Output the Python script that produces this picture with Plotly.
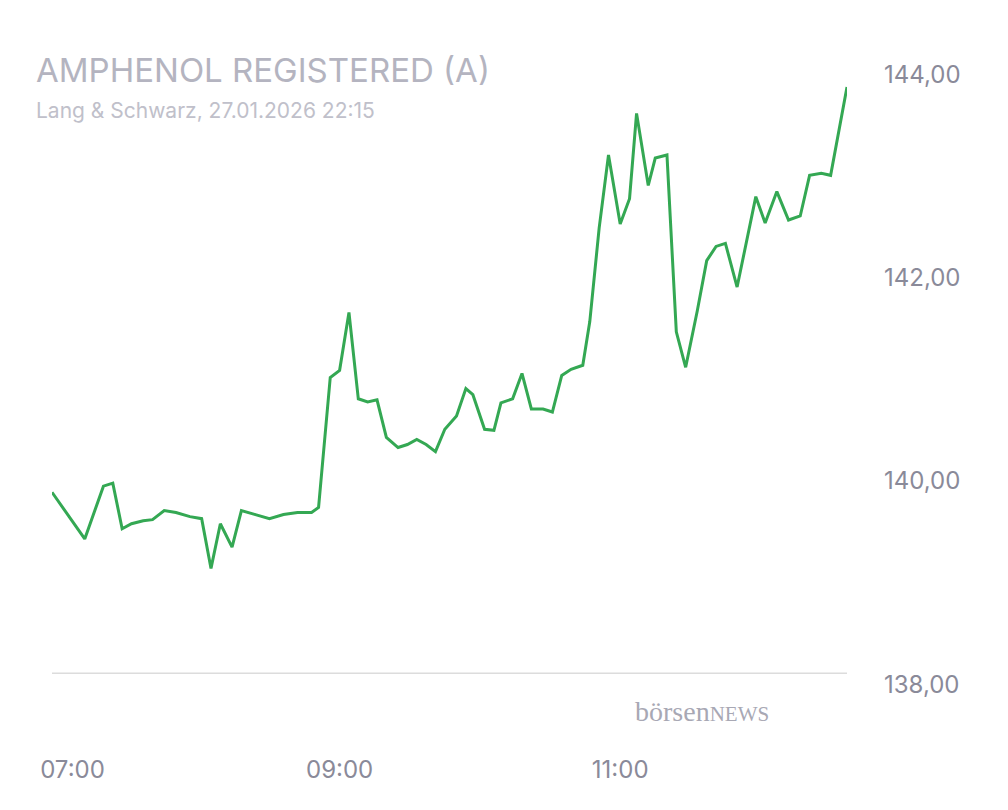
import plotly.graph_objects as go

times = ["06:57", "07:11", "07:19", "07:23", "07:27", "07:31", "07:36", "07:40", "07:45", "07:50",
         "07:56", "08:01", "08:05", "08:09", "08:14", "08:18", "08:24", "08:30", "08:36", "08:42",
         "08:48", "08:51", "08:56", "09:00", "09:04", "09:08", "09:12", "09:16", "09:20", "09:25",
         "09:29", "09:33", "09:37", "09:41", "09:45", "09:50", "09:54", "09:57", "10:02", "10:06",
         "10:09", "10:14", "10:18", "10:22", "10:27", "10:31", "10:35", "10:39", "10:44", "10:47",
         "10:51", "10:55", "11:00", "11:04", "11:07", "11:12", "11:15", "11:20", "11:24", "11:28",
         "11:33", "11:37", "11:41", "11:45", "11:50", "11:54", "11:58", "12:02", "12:07", "12:12",
         "12:17", "12:21", "12:26", "12:30", "12:37"]
prices = [139.89, 139.43, 139.95, 139.98, 139.53, 139.58, 139.61, 139.62, 139.71, 139.69,
          139.65, 139.63, 139.14, 139.58, 139.35, 139.71, 139.67, 139.63, 139.67, 139.69,
          139.69, 139.74, 141.02, 141.09, 141.66, 140.81, 140.78, 140.80, 140.43, 140.33,
          140.36, 140.41, 140.36, 140.29, 140.51, 140.64, 140.91, 140.85, 140.51, 140.50,
          140.77, 140.81, 141.06, 140.71, 140.71, 140.68, 141.04, 141.10, 141.14, 141.57,
          142.49, 143.21, 142.53, 142.78, 143.62, 142.91, 143.18, 143.21, 141.47, 141.12,
          141.68, 142.17, 142.31, 142.34, 141.91, 142.35, 142.80, 142.54, 142.85, 142.57,
          142.61, 143.01, 143.03, 143.01, 143.88]
x_ticks = ["07:00", "09:00", "11:00"]
y_ticks = [138, 140, 142, 144]

day = "2026-01-27 "
xs = [day + t for t in times]
# first label sits a bit right of its tick in the original
x_text = ["\u00a0" * 4 + x_ticks[0]] + x_ticks[1:]

fig = go.Figure()
fig.add_trace(go.Scatter(
    x=xs, y=prices, mode='lines',
    line=dict(color='#34a853', width=3),
    hoverinfo='skip'
))
fig.update_layout(
    width=1008, height=810,
    margin=dict(l=44, r=169, t=16, b=83),
    paper_bgcolor='white', plot_bgcolor='white',
    showlegend=False,
    font=dict(family='Inter', color='#8a8a99'),
    xaxis=dict(
        range=[day + "06:57", day + "12:37"],
        tickvals=[day + t for t in x_ticks], ticktext=x_text,
        showgrid=False, zeroline=False, showline=False, automargin=False,
        tickfont=dict(size=24, color='#8a8a99'), ticklabelstandoff=18
    ),
    yaxis=dict(
        range=[137.5, 144.5], side='right',
        tickvals=y_ticks, ticktext=[f"{v},00" for v in y_ticks],
        showgrid=False, zeroline=False, showline=False, automargin=False,
        tickfont=dict(size=24, color='#8a8a99'), ticklabelstandoff=36
    ),
    shapes=[dict(type='line', xref='paper', yref='paper', x0=0, x1=1, y0=0.087, y1=0.087,
                 line=dict(color='#dcdcdc', width=1.5))],
    annotations=[
        dict(text="AMPHENOL REGISTERED (A)", xref='paper', yref='paper', x=-0.023, y=0.936,
             xanchor='left', yanchor='middle', showarrow=False,
             font=dict(size=33, color='#b4b4c0')),
        dict(text="Lang & Schwarz, 27.01.2026 22:15", xref='paper', yref='paper', x=-0.023, y=0.878,
             xanchor='left', yanchor='middle', showarrow=False,
             font=dict(size=21, color='#c0c0ca')),
        dict(text="börsen<span style='font-size:21px'>NEWS</span>", xref='paper', yref='paper',
             x=0.905, y=0.033, xanchor='right', yanchor='middle', showarrow=False,
             font=dict(size=28, color='#a8a8b4', family='Liberation Serif')),
    ],
)
fig.write_html("out.html")
